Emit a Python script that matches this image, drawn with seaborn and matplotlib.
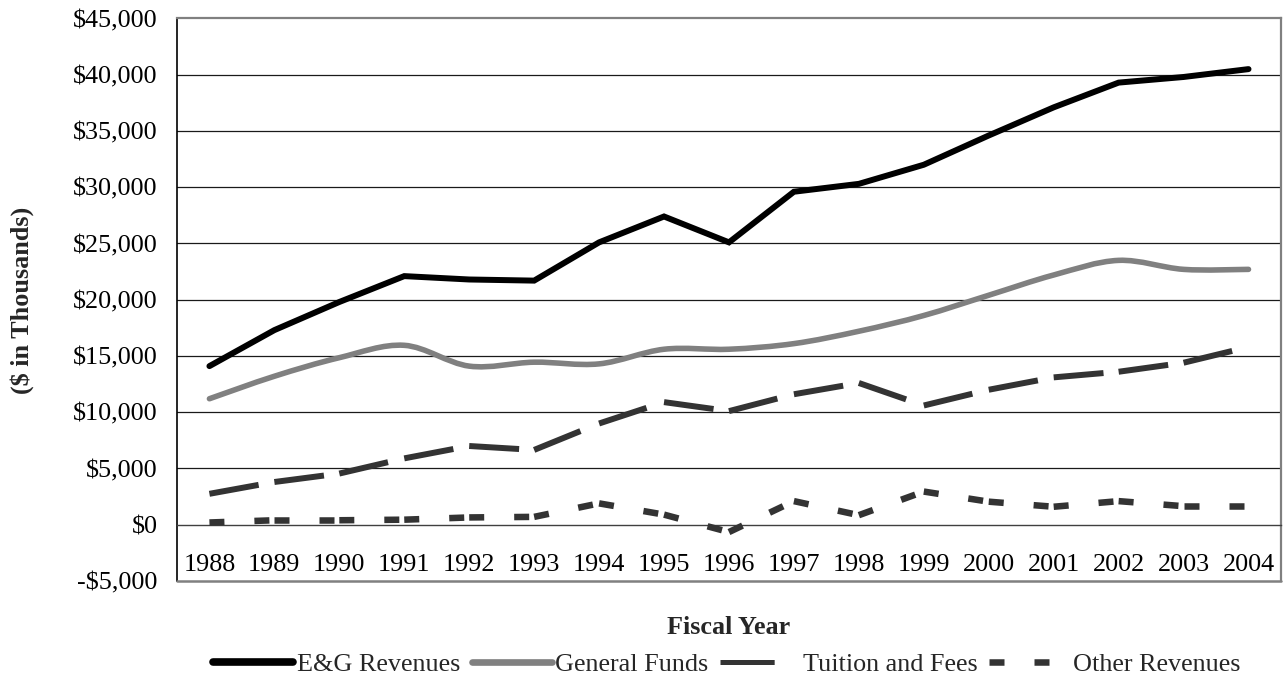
import numpy as np
import pandas as pd
import matplotlib
matplotlib.use("Agg")
import matplotlib.pyplot as plt
import seaborn as sns
from matplotlib.lines import Line2D
from matplotlib.path import Path
from matplotlib.patches import PathPatch
from matplotlib.ticker import FuncFormatter, FixedLocator

# ---- data ($ in thousands) ----
years = list(range(1988, 2005))
eg_revenues = [14100, 17300, 19800, 22100, 21800, 21700, 25100, 27400, 25100,
               29600, 30300, 32000, 34600, 37100, 39300, 39800, 40500]
general_funds = [11200, 13200, 14850, 15950, 14100, 14450, 14300, 15600, 15600,
                 16100, 17200, 18600, 20400, 22200, 23500, 22700, 22700]
tuition_fees = [2750, 3800, 4550, 5900, 7000, 6650, 9000, 10900, 10100,
                11600, 12600, 10600, 12000, 13100, 13600, 14400, 15800]
other_revenues = [200, 400, 400, 450, 650, 700, 1900, 900, -650,
                  2100, 850, 2950, 2050, 1600, 2100, 1650, 1650]
series_names = ["E&G Revenues", "General Funds", "Tuition and Fees", "Other Revenues"]

sns.set_style("white")
plt.rcParams["font.family"] = ["Liberation Serif", "DejaVu Serif"]
plt.rcParams["lines.scale_dashes"] = False

FS = 18.8
BLACK = "#000000"
GRAY = "#808080"
DARK = "#333333"

fig = plt.figure(figsize=(12.86, 6.77), dpi=100)
ax = fig.add_axes([0.1376, 0.1418, 0.8585, 0.8309])

ax.set_xlim(1987.5, 2004.5)
ax.set_ylim(-5000, 45000)

# horizontal gridlines
for g in range(5000, 45000, 5000):
    ax.axhline(g, color="#1a1a1a", lw=0.9, zorder=1)

# E&G revenues: solid black polyline
df_eg = pd.DataFrame({"year": years, "value": eg_revenues})
sns.lineplot(data=df_eg, x="year", y="value", ax=ax, color=BLACK, lw=4.3,
             solid_capstyle="round", solid_joinstyle="miter", zorder=5)

# General funds: smoothed curve (Catmull-Rom as cubic Bezier through the points)
px = np.array(years, dtype=float)
py = np.array(general_funds, dtype=float)
pts = np.column_stack([px, py])
ext = np.vstack([pts[0], pts, pts[-1]])
verts = [tuple(pts[0])]
codes = [Path.MOVETO]
for i in range(len(pts) - 1):
    p0, p1, p2, p3 = ext[i], ext[i + 1], ext[i + 2], ext[i + 3]
    c1 = p1 + (p2 - p0) / 6.0
    c2 = p2 - (p3 - p1) / 6.0
    verts += [tuple(c1), tuple(c2), tuple(p2)]
    codes += [Path.CURVE4] * 3
ax.add_patch(PathPatch(Path(verts, codes), fill=False, edgecolor=GRAY, lw=4.0,
                       capstyle="round", joinstyle="round", zorder=4))

# Dashed series: dash pattern restarts at every data point
def dashed_segments(values, color, lw, pattern):
    for i in range(len(years) - 1):
        seg = pd.DataFrame({"year": years[i:i + 2], "value": values[i:i + 2]})
        sns.lineplot(data=seg, x="year", y="value", ax=ax, color=color, lw=lw,
                     linestyle=(0, pattern), dash_capstyle="butt", zorder=4)

dashed_segments(tuition_fees, DARK, 4.3, (36.0, 21.6))
dashed_segments(other_revenues, DARK, 4.7, (10.8, 21.6))

# ---- axes styling ----
ax.set_xlabel("")
ax.set_ylabel("")
ax.spines["bottom"].set_position(("data", 0))
ax.spines["bottom"].set_color("#404040")
ax.spines["bottom"].set_linewidth(1.0)
ax.spines["left"].set_color(BLACK)
ax.spines["left"].set_linewidth(1.2)
for s in ("top", "right"):
    ax.spines[s].set_color(GRAY)
    ax.spines[s].set_linewidth(1.6)
ax.plot([0, 1], [0, 0], transform=ax.transAxes, color=GRAY, lw=1.8,
        clip_on=False, zorder=6)

ax.set_xticks(years)
ax.set_xticklabels([str(y) for y in years])
ax.xaxis.set_minor_locator(FixedLocator([y + 0.5 for y in years]))
ax.tick_params(axis="x", which="major", length=0, pad=21.0, labelsize=FS,
               labelcolor=BLACK)
ax.tick_params(axis="x", which="minor", length=6.5, width=1.0, color="#222222",
               direction="out")

ax.set_yticks(range(-5000, 45001, 5000))
ax.yaxis.set_major_formatter(FuncFormatter(
    lambda v, p: ("-$" if v < 0 else "$") + f"{abs(int(v)):,}"))
ax.tick_params(axis="y", which="major", length=5, width=1.0, color=BLACK,
               direction="out", pad=9.0, labelsize=FS, labelcolor=BLACK)

fig.text(729 / 1286, 1 - 627 / 677, "Fiscal Year", ha="center", va="center",
         fontsize=FS, fontweight="bold")
fig.text(22 / 1286, 1 - 300 / 677, "($ in Thousands)", ha="center", va="center",
         rotation=90, fontsize=FS, fontweight="bold")

handles = [
    Line2D([], [], color=BLACK, lw=5.5, solid_capstyle="round"),
    Line2D([], [], color=GRAY, lw=4.8, solid_capstyle="round"),
    Line2D([], [], color=DARK, lw=3.6, linestyle=(0, (39.0, 30.0)),
           dash_capstyle="butt"),
    Line2D([], [], color=DARK, lw=4.7, linestyle=(0, (10.8, 21.6)),
           dash_capstyle="butt"),
]
fig.legend(handles, series_names, loc="center", ncol=4,
           bbox_to_anchor=(727 / 1286, 1 - 664 / 677), frameon=False,
           fontsize=FS, handlelength=3.06, handletextpad=0.15,
           columnspacing=0.42, borderaxespad=0, borderpad=0)

fig.savefig("out.png", dpi=100)
